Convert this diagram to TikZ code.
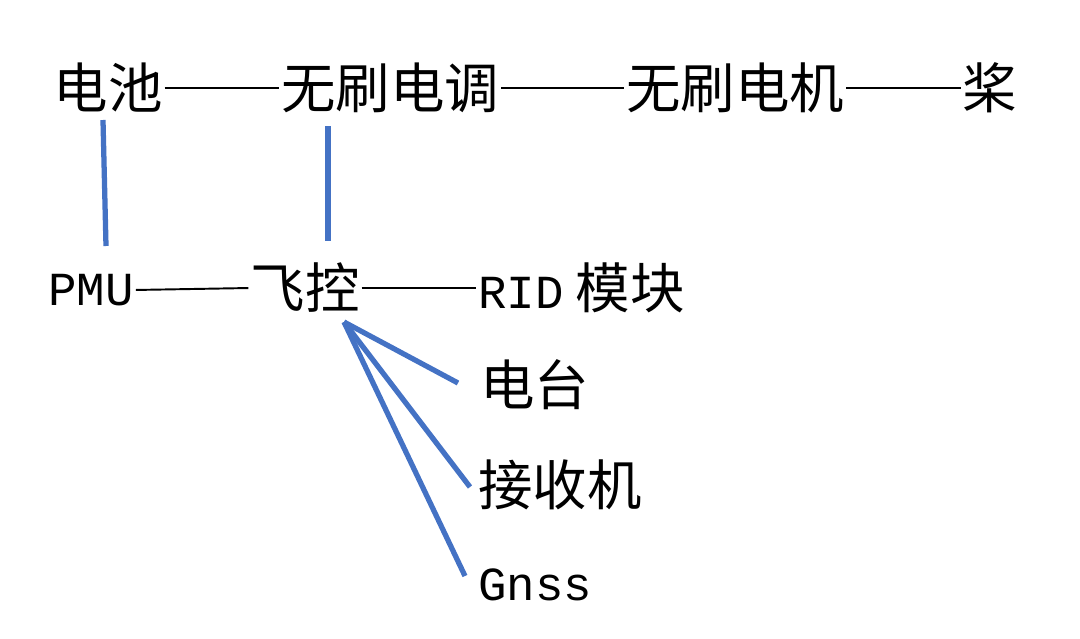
\documentclass[tikz,border=0pt]{standalone}
\usepackage{fontspec}
\setmainfont{Noto Sans CJK SC}
\newfontfamily\latmono{Liberation Mono}
\begin{document}
\begin{tikzpicture}[x=0.02cm,y=-0.02cm,
  t/.style={inner sep=0pt,anchor=center,font=\fontsize{31}{36}\selectfont},
  lm/.style={font=\fontsize{27}{36}\latmono},
  emline/.style={black,line width=1.1pt,shorten <=1pt,shorten >=1pt},
  bluel/.style={draw={rgb,255:red,68;green,114;blue,196},line width=3pt}]
\useasboundingbox (0,0) rectangle (1080,639);
% top row
\node[t] (bat) at (108,88) {电池};
\node[t] (esc) at (390,88) {无刷电调};
\node[t] (mot) at (735,88) {无刷电机};
\node[t] (prop) at (990,88) {桨};
\draw[emline] (bat.east) -- (esc.west);
\draw[emline] (esc.east) -- (mot.west);
\draw[emline] (mot.east) -- (prop.west);
% second row
\node[t,lm] (pmu) at (91,290) {PMU};
\node[t] (fc) at (305,288) {飞控};
\node[t,anchor=west] (rid) at (478,288) {{\latmono\fontsize{27}{36}\selectfont RID} 模块};
\draw[emline] (pmu.east) -- (fc.west);
\draw[emline] (fc.east) -- (rid.west);
% branches
\node[t,anchor=west] (radio) at (480,385) {电台};
\node[t,anchor=west] (rx) at (478,485) {接收机};
\node[t,anchor=west,lm] (gnss) at (478,585) {Gnss};
\coordinate (a1) at (103,120); \coordinate (a2) at (106,246);
\coordinate (b1) at (328,126); \coordinate (b2) at (328,241);
\coordinate (h) at (344,322);
\coordinate (r1) at (458,383); \coordinate (r2) at (470,487); \coordinate (r3) at (465,576);
\draw[bluel] (a1) -- (a2);
\draw[bluel] (b1) -- (b2);
\draw[bluel] (h) -- (r1);
\draw[bluel] (h) -- (r2);
\draw[bluel] (h) -- (r3);
\end{tikzpicture}
\end{document}
